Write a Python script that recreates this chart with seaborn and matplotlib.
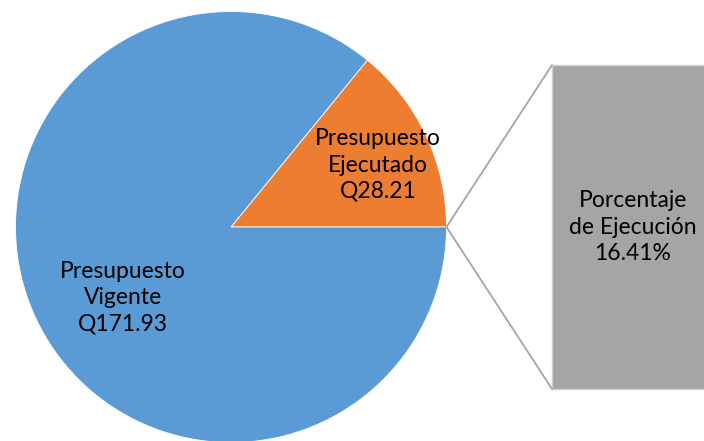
import matplotlib.pyplot as plt
import seaborn as sns

# datos del presupuesto (millones de quetzales)
categorias = ['Presupuesto\nEjecutado', 'Presupuesto\nVigente']
montos = [28.21, 171.93]
etiquetas_monto = ['Q28.21', 'Q171.93']
porcentaje = [16.41]
etiqueta_barra = 'Porcentaje\nde Ejecución'

colores = ['#ed7d31', '#5b9bd5']
gris = '#a5a5a5'

sns.set_theme(style='white')
plt.rcParams['font.family'] = ['Lato', 'DejaVu Sans']

fig = plt.figure(figsize=(7.04, 4.41), dpi=100)
ax = fig.add_axes([0, 0, 1, 1])

cx, cy, r = 231, 214, 215.5
ax.pie(montos, colors=colores, startangle=0, counterclock=True,
       center=(cx, cy), radius=r, frame=True,
       wedgeprops=dict(linewidth=0.6, edgecolor='white'))
ax.set_xlim(0, 704)
ax.set_ylim(0, 441)
ax.set_aspect('equal')
ax.axis('off')

# etiquetas de la pie
ax.text(378, 276, categorias[0] + '\n' + etiquetas_monto[0], ha='center', va='center',
        fontsize=16.5, linespacing=1.3, color='black')
ax.text(123, 143, categorias[1] + '\n' + etiquetas_monto[1], ha='center', va='center',
        fontsize=16.5, linespacing=1.3, color='black')

# barra del porcentaje
bx, bw, by, bh = 552, 165, 52, 324
ax.bar([bx + bw / 2], [bh], width=bw, bottom=by, color=gris, edgecolor='#d0d0d0', linewidth=1)
ax.text(633, 214, etiqueta_barra + '\n' + f'{porcentaje[0]:.2f}%', ha='center', va='center',
        fontsize=16.5, linespacing=1.3, color='black')

# lineas de conexion
ax.plot([cx + r, bx], [cy, by + bh], color=gris, linewidth=1.3)
ax.plot([cx + r, bx], [cy, by], color=gris, linewidth=1.3)

fig.savefig('out.png', dpi=100)
